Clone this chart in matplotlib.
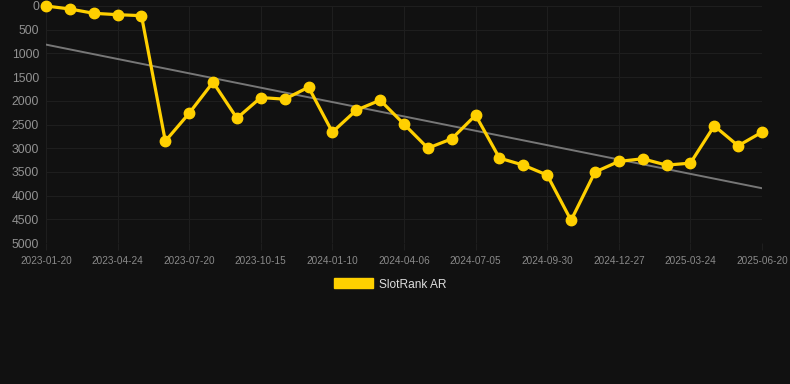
import numpy as np
import matplotlib
matplotlib.use("Agg")
import matplotlib.pyplot as plt

# rank values (lower = better, axis is inverted)
ranks = [0, 63, 154, 183, 204, 2851, 2261, 1608, 2367, 1931, 1966, 1713, 2661, 2198, 1987,
         2493, 2999, 2802, 2303, 3209, 3357, 3567, 4522, 3504, 3279, 3223, 3357, 3315,
         2528, 2949, 2661]
tick_labels = ["2023-01-20", "2023-04-24", "2023-07-20", "2023-10-15", "2024-01-10",
               "2024-04-06", "2024-07-05", "2024-09-30", "2024-12-27", "2025-03-24",
               "2025-06-20"]
y_ticks = [0, 500, 1000, 1500, 2000, 2500, 3000, 3500, 4000, 4500, 5000]

plt.rcParams['font.family'] = ['Liberation Sans', 'DejaVu Sans']

bg = '#111111'
gold = '#FFD000'

fig = plt.figure(figsize=(7.9, 3.84), dpi=100, facecolor=bg)
ax = fig.add_axes([46/790, 1-243/384, 716/790, 237/384])
ax.set_facecolor(bg)

x = np.arange(len(ranks))

# trend line (least squares fit)
k, b = np.polyfit(x, ranks, 1)
ax.plot([x[0], x[-1]], [k*x[0]+b, k*x[-1]+b], color='#777777', lw=1.4, zorder=2)

ax.plot(x, ranks, color=gold, lw=2.3, marker='o', ms=7.5, mfc=gold, mec=gold,
        clip_on=False, zorder=3, label='SlotRank AR')

ax.set_xlim(0, len(ranks)-1)
ax.set_ylim(5000, 0)
ax.set_xticks(x[::3])
ax.set_xticklabels(tick_labels)
ax.set_yticks(y_ticks)

ax.grid(True, color='#1e1e1e', lw=0.8)
ax.set_axisbelow(True)
for s in ax.spines.values():
    s.set_visible(False)
ax.tick_params(axis='x', colors='#1e1e1e', labelcolor='#8a8a8a', labelsize=7.2, length=5, pad=4)
ax.tick_params(axis='y', colors='#1e1e1e', labelcolor='#929292', labelsize=8.8, length=0, pad=5)

leg = fig.legend(handles=[plt.Rectangle((0, 0), 1, 1, color=gold)], labels=['SlotRank AR'],
                 loc='center', bbox_to_anchor=(390/790, 1-284.5/384), frameon=False,
                 handlelength=3.3, handleheight=0.9, handletextpad=0.5, fontsize=8.6)
for t in leg.get_texts():
    t.set_color('#dddddd')

fig.savefig('out.png', dpi=100, facecolor=bg)
